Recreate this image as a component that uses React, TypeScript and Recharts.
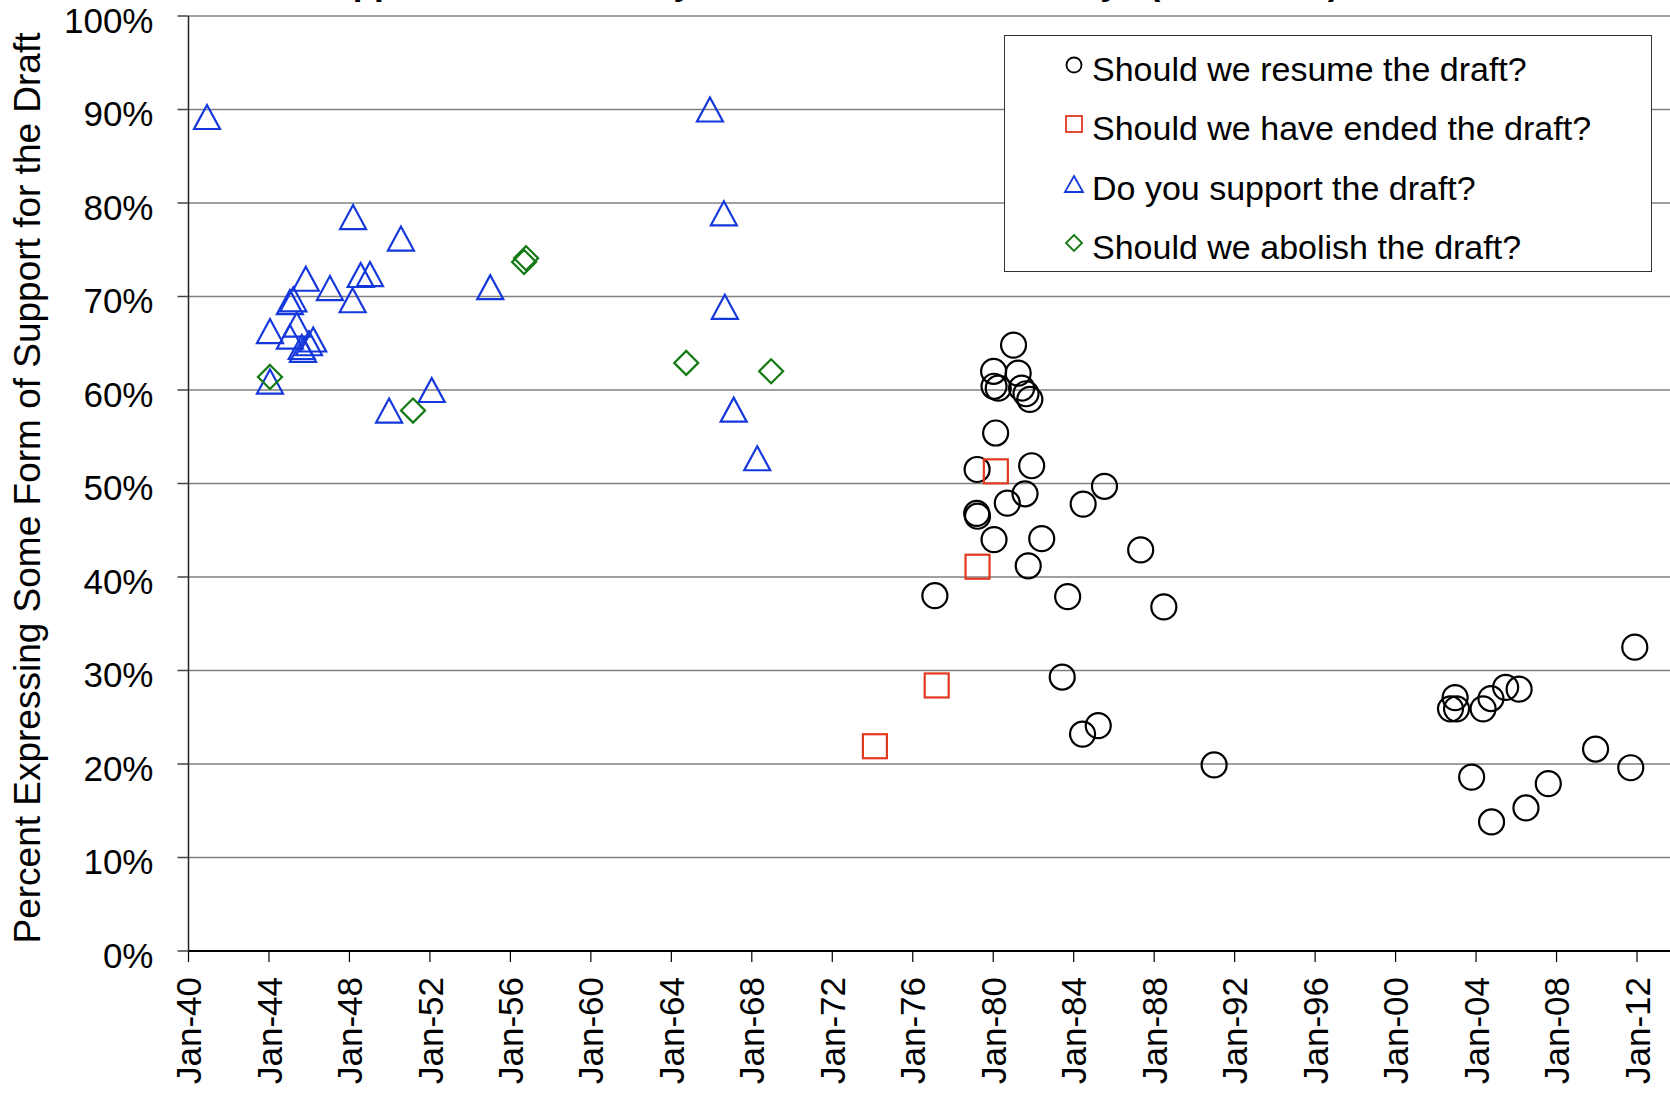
import React from "react";
import { ScatterChart, Scatter, XAxis, YAxis, CartesianGrid, Legend } from "recharts";

const FONT = "'Liberation Sans', Arial, Helvetica, sans-serif";

// year (decimal) / percent support
const resumeDraft = [
  { year: 1977.1, pct: 38.0 },
  { year: 1979.18, pct: 46.8 },
  { year: 1979.22, pct: 46.5 },
  { year: 1979.2, pct: 51.5 },
  { year: 1980.02, pct: 62.0 },
  { year: 1980.04, pct: 60.4 },
  { year: 1980.25, pct: 60.2 },
  { year: 1980.12, pct: 55.4 },
  { year: 1980.04, pct: 44.0 },
  { year: 1980.7, pct: 47.9 },
  { year: 1981.01, pct: 64.8 },
  { year: 1981.24, pct: 61.8 },
  { year: 1981.41, pct: 60.2 },
  { year: 1981.63, pct: 59.6 },
  { year: 1981.82, pct: 59.0 },
  { year: 1981.91, pct: 51.9 },
  { year: 1981.58, pct: 48.9 },
  { year: 1981.74, pct: 41.2 },
  { year: 1982.41, pct: 44.1 },
  { year: 1983.7, pct: 37.9 },
  { year: 1983.43, pct: 29.3 },
  { year: 1984.47, pct: 47.8 },
  { year: 1985.53, pct: 49.7 },
  { year: 1984.44, pct: 23.2 },
  { year: 1985.22, pct: 24.1 },
  { year: 1987.33, pct: 42.9 },
  { year: 1988.48, pct: 36.8 },
  { year: 1990.98, pct: 19.9 },
  { year: 2002.73, pct: 25.9 },
  { year: 2002.96, pct: 27.1 },
  { year: 2003.03, pct: 25.9 },
  { year: 2003.78, pct: 18.6 },
  { year: 2004.35, pct: 25.9 },
  { year: 2004.74, pct: 27.0 },
  { year: 2004.77, pct: 13.8 },
  { year: 2005.47, pct: 28.2 },
  { year: 2006.14, pct: 28.0 },
  { year: 2006.48, pct: 15.3 },
  { year: 2007.59, pct: 17.9 },
  { year: 2009.94, pct: 21.6 },
  { year: 2011.69, pct: 19.6 },
  { year: 2011.89, pct: 32.5 },
];

const endedDraft = [
  { year: 1974.12, pct: 21.9 },
  { year: 1977.19, pct: 28.4 },
  { year: 1979.22, pct: 41.1 },
  { year: 1980.13, pct: 51.3 },
];

const supportDraft = [
  { year: 1940.92, pct: 89.2 },
  { year: 1944.05, pct: 66.3 },
  { year: 1944.05, pct: 60.9 },
  { year: 1945.04, pct: 69.4 },
  { year: 1945.21, pct: 69.7 },
  { year: 1945.04, pct: 65.7 },
  { year: 1945.38, pct: 67.0 },
  { year: 1945.63, pct: 64.6 },
  { year: 1945.69, pct: 64.3 },
  { year: 1945.99, pct: 65.0 },
  { year: 1946.2, pct: 65.4 },
  { year: 1945.83, pct: 71.9 },
  { year: 1947.03, pct: 70.9 },
  { year: 1948.16, pct: 69.6 },
  { year: 1948.18, pct: 78.5 },
  { year: 1948.56, pct: 72.3 },
  { year: 1949.02, pct: 72.4 },
  { year: 1950.56, pct: 76.2 },
  { year: 1949.97, pct: 57.8 },
  { year: 1952.09, pct: 60.0 },
  { year: 1955.0, pct: 71.0 },
  { year: 1965.92, pct: 90.0 },
  { year: 1966.61, pct: 78.9 },
  { year: 1966.66, pct: 68.9 },
  { year: 1967.1, pct: 57.9 },
  { year: 1968.27, pct: 52.7 },
];

const abolishDraft = [
  { year: 1944.05, pct: 61.4 },
  { year: 1951.16, pct: 57.8 },
  { year: 1956.68, pct: 73.7 },
  { year: 1956.78, pct: 74.1 },
  { year: 1964.74, pct: 62.9 },
  { year: 1968.96, pct: 62.0 },
];

const xTicks = [1940, 1944, 1948, 1952, 1956, 1960, 1964, 1968, 1972, 1976, 1980, 1984, 1988, 1992, 1996, 2000, 2004, 2008, 2012];
const yTicks = [0, 10, 20, 30, 40, 50, 60, 70, 80, 90, 100];

const BLACK = "#000000";
const RED = "#e2381e";
const BLUE = "#1438dc";
const GREEN = "#137a13";

const legendItems = [
  { name: "Should we resume the draft?", kind: "circle", color: BLACK },
  { name: "Should we have ended the draft?", kind: "square", color: RED },
  { name: "Do you support the draft?", kind: "triangle", color: BLUE },
  { name: "Should we abolish the draft?", kind: "diamond", color: GREEN },
];

const Marker = ({ kind, cx, cy, s, color, w }: any) => {
  if (kind === "circle") return <circle cx={cx} cy={cy} r={s / 2} fill="none" stroke={color} strokeWidth={w} />;
  if (kind === "square")
    return <rect x={cx - s / 2} y={cy - s / 2} width={s} height={s} fill="none" stroke={color} strokeWidth={w} />;
  if (kind === "triangle")
    return (
      <path
        d={`M${cx},${cy - s / 2}L${cx + s / 2 + 1},${cy + s / 2}L${cx - s / 2 - 1},${cy + s / 2}Z`}
        fill="none"
        stroke={color}
        strokeWidth={w}
        strokeLinejoin="miter"
      />
    );
  return (
    <path
      d={`M${cx},${cy - s / 2}L${cx + s / 2},${cy}L${cx},${cy + s / 2}L${cx - s / 2},${cy}Z`}
      fill="none"
      stroke={color}
      strokeWidth={w}
    />
  );
};

const shapeFor = (kind: string, color: string, s: number) => (props: any) =>
  <Marker kind={kind} cx={props.cx} cy={props.cy} s={s} color={color} w={2.2} />;

const fmtYear = (v: number) => "Jan-" + String(v % 100).padStart(2, "0");

const XTick = ({ x, y, payload }: any) => (
  <text
    x={x}
    y={y}
    transform={`rotate(-90, ${x}, ${y})`}
    textAnchor="end"
    dy="0.36em"
    fontSize={35}
    fontFamily={FONT}
    fill="#000"
  >
    {fmtYear(payload.value)}
  </text>
);

const YTick = ({ x, y, payload }: any) => (
  <text x={x} y={y + 4} textAnchor="end" dy="0.36em" fontSize={35} fontFamily={FONT} fill="#000">
    {payload.value + "%"}
  </text>
);

const YTitle = () => (
  <text
    x={27}
    y={488}
    transform="rotate(-90, 27, 488)"
    textAnchor="middle"
    dy="0.36em"
    fontSize={37}
    fontFamily={FONT}
    fill="#000"
  >
    Percent Expressing Some Form of Support for the Draft
  </text>
);

// title sits above the top edge; only its descenders show, as in the reference
const Title = () => (
  <text x={308} y={-5} fontSize={35} fontWeight="bold" fontFamily={FONT} fill="#000">
    Support for the Military Draft in American Surveys (1940-2012)
  </text>
);

const LegendBox = () => (
  <div
    style={{
      width: 648,
      height: 237,
      border: "1.5px solid #333",
      background: "#fff",
      boxSizing: "border-box",
      position: "relative",
      fontFamily: FONT,
    }}
  >
    {legendItems.map((it, i) => {
      const cy = 33 + i * 59.3;
      return (
        <React.Fragment key={it.name}>
          <svg width={24} height={24} style={{ position: "absolute", left: 69 - 12, top: cy - 12 - 4 }}>
            <Marker kind={it.kind} cx={12} cy={12} s={it.kind === "circle" ? 15 : 16} color={it.color} w={1.8} />
          </svg>
          <div
            style={{
              position: "absolute",
              left: 87,
              top: cy - 17,
              fontSize: 34,
              lineHeight: "34px",
              whiteSpace: "nowrap",
              color: "#000",
            }}
          >
            {it.name}
          </div>
        </React.Fragment>
      );
    })}
  </div>
);

export default function App() {
  return (
    <div style={{ position: "absolute", left: 0, top: 0 }}>
      <ScatterChart width={1670} height={1094} margin={{ top: 16, right: 0, bottom: 0, left: 0 }}>
        <CartesianGrid horizontal vertical={false} stroke="#808080" strokeWidth={1.5} />
        <XAxis
          type="number"
          dataKey="year"
          domain={[1940, 2013.64]}
          ticks={xTicks}
          interval={0}
          allowDataOverflow
          height={143}
          tickSize={11}
          tickMargin={15}
          tick={<XTick />}
          axisLine={{ stroke: "#000", strokeWidth: 2 }}
          tickLine={{ stroke: "#000", strokeWidth: 1.2 }}
          label={<Title />}
        />
        <YAxis
          type="number"
          dataKey="pct"
          domain={[0, 100]}
          ticks={yTicks}
          interval={0}
          width={188.5}
          tickSize={11}
          tickMargin={24}
          tick={<YTick />}
          axisLine={{ stroke: "#222", strokeWidth: 1.5 }}
          tickLine={{ stroke: "#444", strokeWidth: 1.5 }}
          label={<YTitle />}
        />
        <Legend
          layout="horizontal"
          align="center"
          verticalAlign="middle"
          content={<LegendBox />}
          wrapperStyle={{ position: "absolute", left: 1004, top: 35, width: 648, height: 237 }}
        />
        <Scatter name="Should we resume the draft?" data={resumeDraft} shape={shapeFor("circle", BLACK, 25)} isAnimationActive={false} />
        <Scatter name="Should we have ended the draft?" data={endedDraft} shape={shapeFor("square", RED, 24)} isAnimationActive={false} />
        <Scatter name="Do you support the draft?" data={supportDraft} shape={shapeFor("triangle", BLUE, 24)} isAnimationActive={false} />
        <Scatter name="Should we abolish the draft?" data={abolishDraft} shape={shapeFor("diamond", GREEN, 24)} isAnimationActive={false} />
      </ScatterChart>
    </div>
  );
}
